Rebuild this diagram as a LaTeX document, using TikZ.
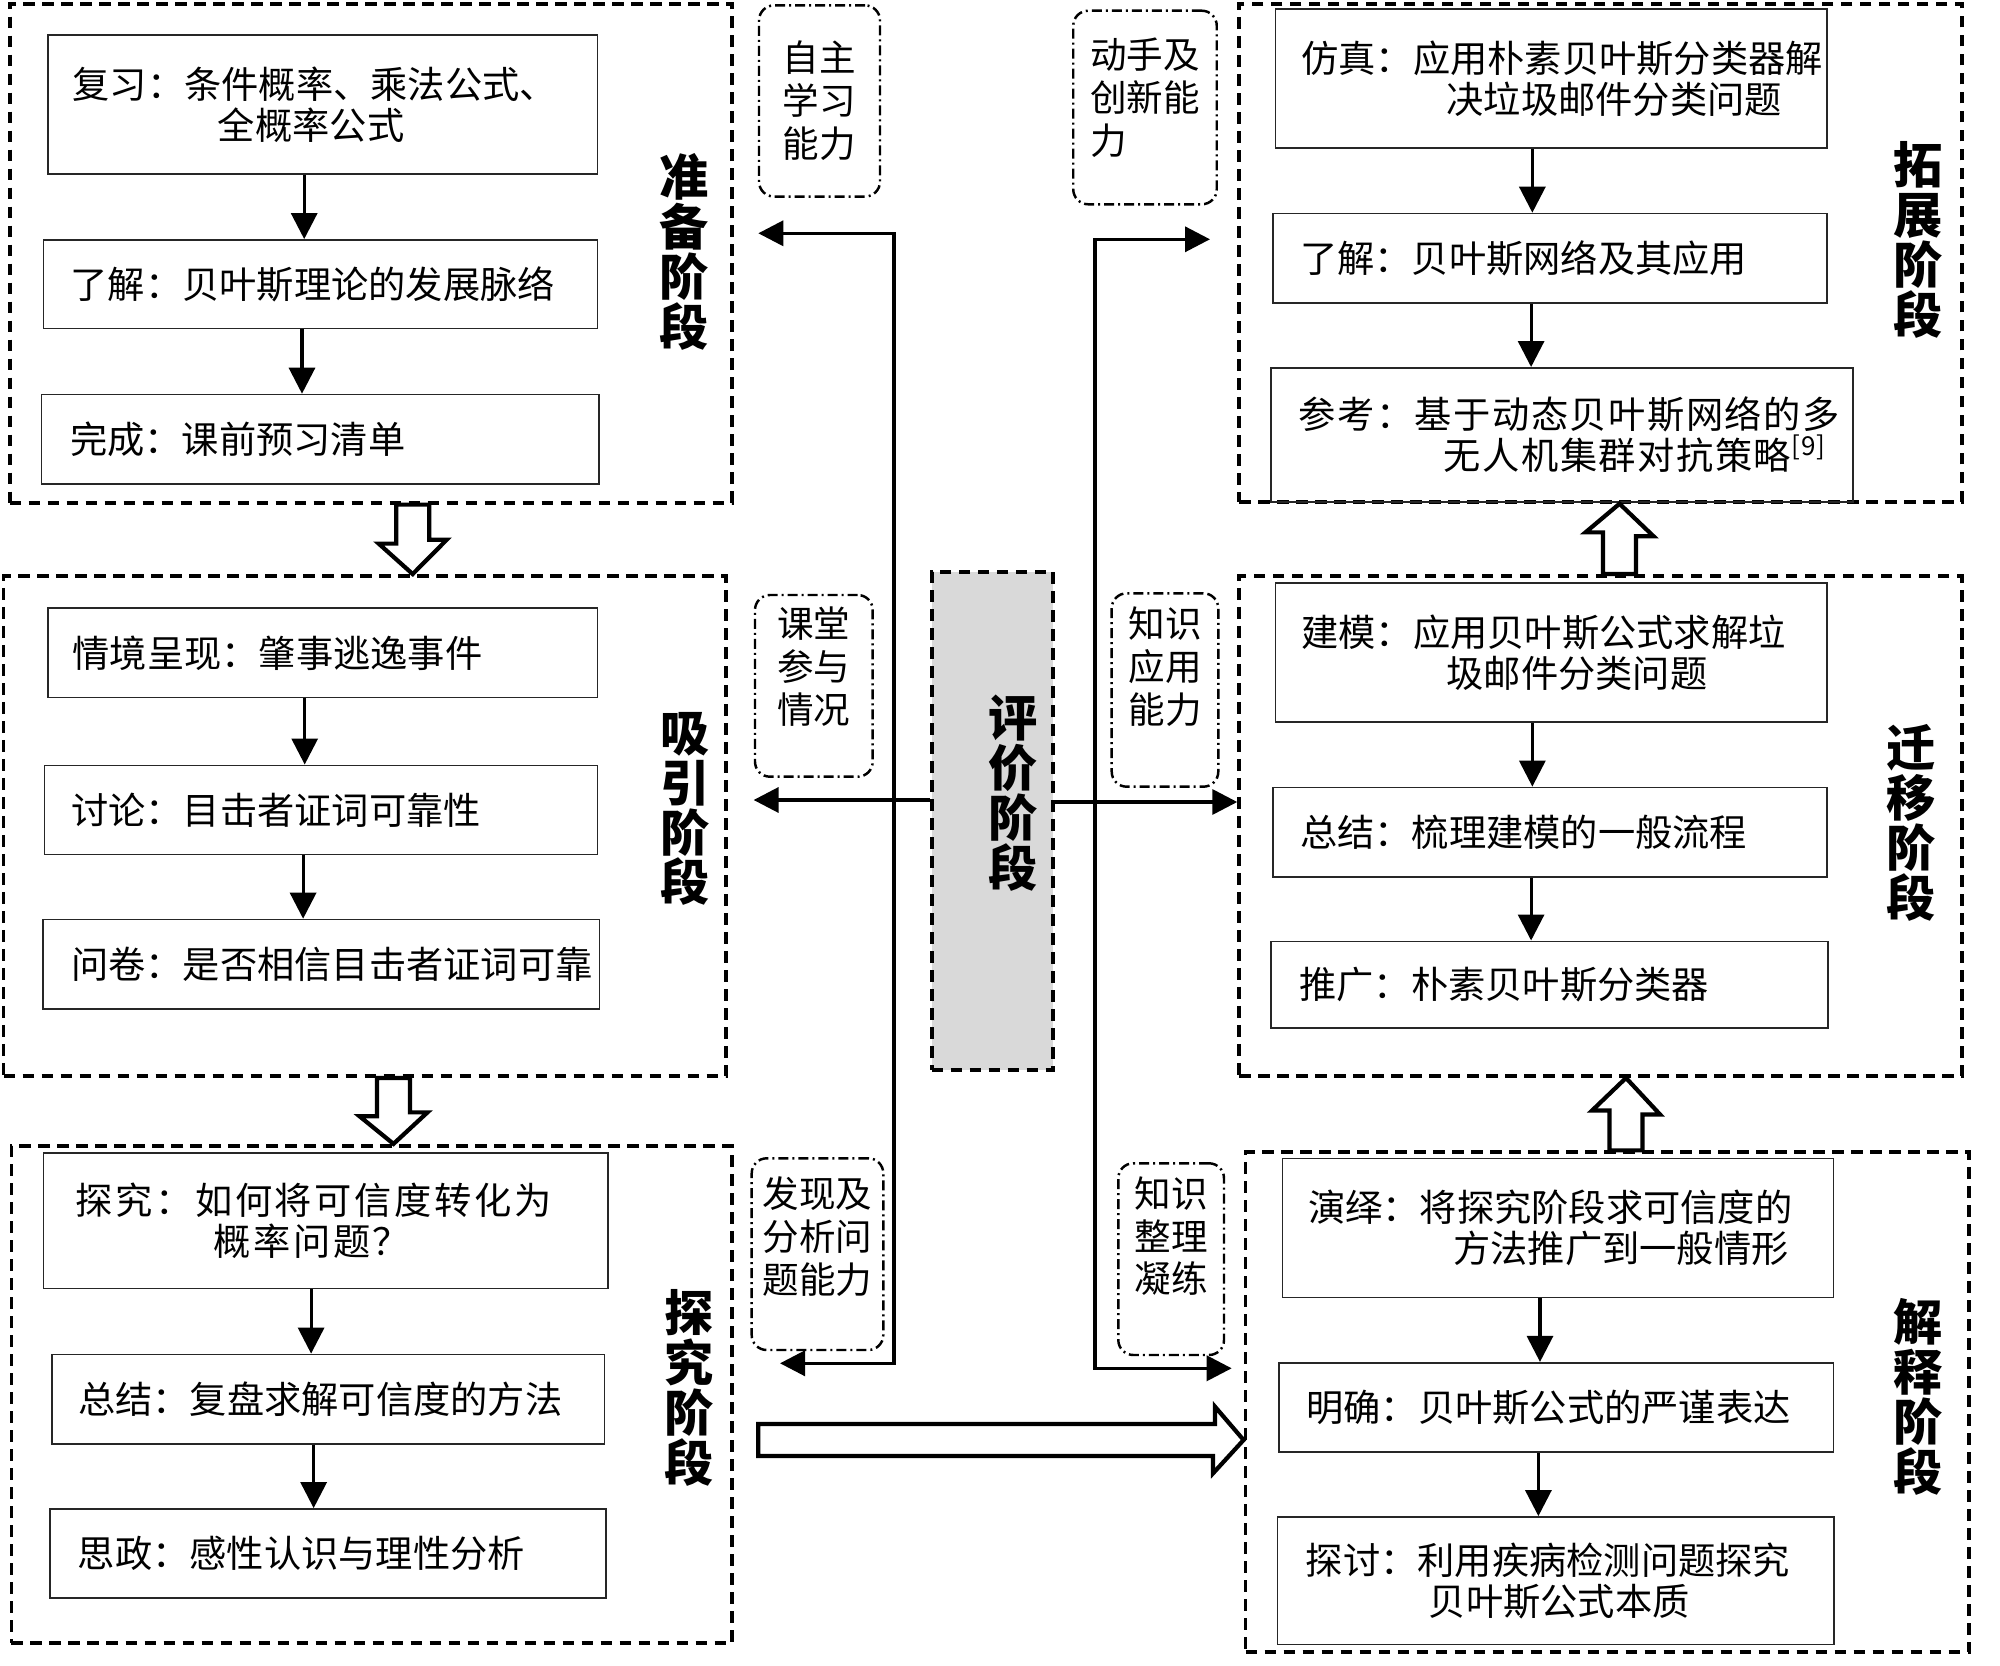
\documentclass[tikz,border=0pt]{standalone}
\usepackage{fontspec}
\usepackage{xcolor}
\usepackage{tikz}
\usetikzlibrary{arrows.meta, positioning, calc}
\newfontfamily\cjk{Noto Sans CJK SC}
\definecolor{evalgray}{rgb}{0.85,0.85,0.85}

\begin{document}
\begin{tikzpicture}[
    stage/.style={draw, line width=1.1pt, dash pattern=on 1.17mm off 0.73mm, inner sep=0pt},
    stepbox/.style={draw=black!85, line width=0.5pt, font=\cjk\fontsize{10.6}{11.7}\selectfont, align=left, text width=5cm, inner sep=0pt},
    ability/.style={draw, line width=0.7pt, rounded corners=1.5mm, dash pattern=on 1mm off 0.4mm on 0.2mm off 0.4mm, inner sep=0pt, align=center, font=\cjk\fontsize{10.4}{12.2}\selectfont},
    stagelabel/.style={font=\cjk\bfseries\fontsize{14}{14.2}\selectfont, align=center, inner sep=0pt},
    flow/.style={line width=0.9pt, -{Triangle[length=2.6mm, width=2.6mm]}},
    link/.style={line width=1pt, -{Triangle[length=2.5mm, width=2.5mm]}},
    hollow/.style={line width=1.2pt, line join=miter, fill=white}
  ]
      \useasboundingbox (0,0) rectangle (20,-16.66);

      % stages
      \node[stage, minimum width=7.224cm, minimum height=4.991cm] (prep) at (3.708,-2.5315) {};
      \node[stage, minimum width=7.225cm, minimum height=5.0cm] (attr) at (3.6475,-8.26) {};
      \node[stage, minimum width=7.205cm, minimum height=4.975cm] (inq) at (3.7175,-13.9455) {};
      \node[stage, minimum width=7.225cm, minimum height=4.982cm] (ext) at (16.0045,-2.527) {};
      \node[stage, minimum width=7.225cm, minimum height=5.0cm] (trans) at (16.0045,-8.26) {};
      \node[stage, minimum width=7.239cm, minimum height=4.993cm] (interp) at (16.0745,-14.0195) {};
      \node[stage, fill=evalgray, minimum width=1.216cm, minimum height=4.983cm] (ev) at (9.925,-8.2085) {};

      \node[stagelabel] (lprep) at (6.84,-2.52) {准\\备\\阶\\段};
      \node[stagelabel] (lattr) at (6.85,-8.09) {吸\\引\\阶\\段};
      \node[stagelabel] (linq) at (6.89,-13.88) {探\\究\\阶\\段};
      \node[stagelabel] (lext) at (19.18,-2.40) {拓\\展\\阶\\段};
      \node[stagelabel] (ltrans) at (19.11,-8.23) {迁\\移\\阶\\段};
      \node[stagelabel] (linterp) at (19.18,-13.97) {解\\释\\阶\\段};
      \node[stagelabel] (lev) at (10.13,-7.93) {评\\价\\阶\\段};

      % steps
      \node[stepbox, minimum width=5.498cm, minimum height=1.393cm] (p1) at (3.227,-1.0465) {复习：条件概率、乘法公式、\\\hspace*{3.9em}全概率公式};
      \node[stepbox, minimum width=5.542cm, minimum height=0.886cm] (p2) at (3.205,-2.843) {了解：贝叶斯理论的发展脉络};
      \node[stepbox, minimum width=5.574cm, minimum height=0.893cm] (p3) at (3.202,-4.3925) {完成：课前预习清单};

      \node[stepbox, minimum width=5.498cm, minimum height=0.893cm] (a1) at (3.227,-6.5285) {情境呈现：肇事逃逸事件};
      \node[stepbox, minimum width=5.53cm, minimum height=0.892cm] (a2) at (3.211,-8.1) {讨论：目击者证词可靠性};
      \node[stepbox, minimum width=5.568cm, minimum height=0.893cm] (a3) at (3.211,-9.6425) {问卷：是否相信目击者证词可靠};

      \node[stepbox, minimum width=5.644cm, minimum height=1.354cm] (q1) at (3.256,-12.207) {\addfontfeature{LetterSpace=7}探究：如何将可信度转化为\\\hspace*{3.7em}概率问题？};
      \node[stepbox, minimum width=5.529cm, minimum height=0.892cm] (q2) at (3.2815,-13.991) {总结：复盘求解可信度的方法};
      \node[stepbox, minimum width=5.562cm, minimum height=0.892cm] (q3) at (3.278,-15.536) {思政：感性认识与理性分析};

      \node[stepbox, minimum width=5.517cm, minimum height=1.393cm] (e1) at (15.5135,-0.7855) {仿真：应用朴素贝叶斯分类器解\\\hspace*{3.9em}决垃圾邮件分类问题};
      \node[stepbox, minimum width=5.542cm, minimum height=0.893cm] (e2) at (15.501,-2.5825) {了解：贝叶斯网络及其应用};
      \node[stepbox, minimum width=5.823cm, minimum height=1.339cm, text width=5.27cm] (e3) at (15.6215,-4.3485) {\addfontfeature{LetterSpace=4}参考：基于动态贝叶斯网络的多\\\hspace*{3.9em}无人机集群对抗策略\textsuperscript{[9]}};

      \node[stepbox, minimum width=5.517cm, minimum height=1.386cm] (t1) at (15.5135,-6.525) {建模：应用贝叶斯公式求解垃\\\hspace*{3.9em}圾邮件分类问题};
      \node[stepbox, minimum width=5.542cm, minimum height=0.893cm] (t2) at (15.501,-8.3215) {总结：梳理建模的一般流程};
      \node[stepbox, minimum width=5.568cm, minimum height=0.865cm] (t3) at (15.494,-9.8465) {推广：朴素贝叶斯分类器};

      \node[stepbox, minimum width=5.51cm, minimum height=1.39cm] (i1) at (15.58,-12.28) {演绎：将探究阶段求可信度的\\\hspace*{3.9em}方法推广到一般情形};
      \node[stepbox, minimum width=5.542cm, minimum height=0.892cm] (i2) at (15.564,-14.074) {明确：贝叶斯公式的严谨表达};
      \node[stepbox, minimum width=5.568cm, minimum height=1.274cm] (i3) at (15.558,-15.807) {探讨：利用疾病检测问题探究\\\hspace*{3.3em}贝叶斯公式本质};

      \draw[flow] ([xshift=-1.85mm]p1.south) -- ([xshift=-1.85mm]p1.south |- p2.north);
      \draw[flow] ([xshift=-1.85mm]p2.south) -- ([xshift=-1.85mm]p2.south |- p3.north);
      \draw[flow] ([xshift=-1.8mm]a1.south) -- ([xshift=-1.8mm]a1.south |- a2.north);
      \draw[flow] ([xshift=-1.8mm]a2.south) -- ([xshift=-1.8mm]a2.south |- a3.north);
      \draw[flow] ([xshift=-1.45mm]q1.south) -- ([xshift=-1.45mm]q1.south |- q2.north);
      \draw[flow] ([xshift=-1.45mm]q2.south) -- ([xshift=-1.45mm]q2.south |- q3.north);
      \draw[flow] ([xshift=-1.9mm]e1.south) -- ([xshift=-1.9mm]e1.south |- e2.north);
      \draw[flow] ([xshift=-1.9mm]e2.south) -- ([xshift=-1.9mm]e2.south |- e3.north);
      \draw[flow] ([xshift=-1.9mm]t1.south) -- ([xshift=-1.9mm]t1.south |- t2.north);
      \draw[flow] ([xshift=-1.9mm]t2.south) -- ([xshift=-1.9mm]t2.south |- t3.north);
      \draw[flow] ([xshift=-1.8mm]i1.south) -- ([xshift=-1.8mm]i1.south |- i2.north);
      \draw[flow] ([xshift=-1.8mm]i2.south) -- ([xshift=-1.8mm]i2.south |- i3.north);

      % abilities
      \node[ability, minimum width=1.21cm, minimum height=1.912cm] (s1) at (8.195,-1.01) {自主\\学习\\能力};
      \node[ability, minimum width=1.177cm, minimum height=1.817cm, text depth=0.41cm] (s2) at (8.1385,-6.8585) {课堂\\参与\\情况};
      \node[ability, minimum width=1.316cm, minimum height=1.917cm, text depth=0.376cm] (s3) at (8.175,-12.5415) {发现及\\分析问\\题能力};
      \node[ability, minimum width=1.435cm, minimum height=1.936cm, align=left, text depth=0.226cm] (s4) at (11.45,-1.075) {动手及\\创新能\\力};
      \node[ability, minimum width=1.066cm, minimum height=1.934cm, text depth=0.49cm] (s5) at (11.65,-6.9) {知识\\应用\\能力};
      \node[ability, minimum width=1.057cm, minimum height=1.917cm, text depth=0.49cm] (s6) at (11.7115,-12.5915) {知识\\整理\\凝练};

      % evaluation links
      \coordinate (jl) at (8.94,-8.00);
      \coordinate (jr) at (10.95,-8.02);
      \coordinate (tp) at (7.583,-2.333);
      \coordinate (ti) at (7.80,-13.633);
      \coordinate (te) at (12.10,-2.393);
      \coordinate (tx) at (12.317,-13.683);
      \draw[link] ([yshift=2.085mm]ev.west) -- ([xshift=2.57mm]attr.east |- jl);
      \draw[link] (jl) |- (tp);
      \draw[link] (jl) |- (ti);
      \draw[link] ([yshift=1.885mm]ev.east) -- (trans.west |- jr);
      \draw[link] (jr) |- (te);
      \draw[link] (jr) |- (tx);

      % stage order
      \draw[hollow] ([xshift=2.54mm]prep.south) -- ++(0,-0.39) -- ++(-0.175,0) -- ([xshift=4.19mm]prep.south |- attr.north) -- ++(0.34,0.343) -- ++(-0.175,0) -- ([xshift=5.84mm]prep.south) -- cycle;
      \draw[hollow] ([xshift=1.225mm]attr.south) -- ++(0,-0.383) -- ++(-0.175,0) -- ([xshift=2.875mm]attr.south |- inq.north) -- ++(0.34,0.315) -- ++(-0.175,0) -- ([xshift=4.525mm]attr.south) -- cycle;
      \coordinate (bt) at (7.583,-14.40);
      \draw[hollow] ([yshift=1.6mm]bt) -- ++(4.567,0) -- ++(0,1.73mm) -- (interp.west |- bt) -- ++(-0.305,-0.333) -- ++(0,1.73mm) -- ([yshift=-1.6mm]bt) -- cycle;
      \draw[hollow] ([xshift=0.205mm]interp.north) -- ++(0,0.398) -- ++(-0.175,0) -- ([xshift=1.855mm]interp.north |- trans.south) -- ++(0.34,-0.365) -- ++(-0.175,0) -- ([xshift=3.505mm]interp.north) -- cycle;
      \draw[hollow] ([xshift=0.255mm]trans.north) -- ++(0,0.417) -- ++(-0.175,0) -- ([xshift=1.905mm]trans.north |- ext.south) -- ++(0.34,-0.325) -- ++(-0.175,0) -- ([xshift=3.555mm]trans.north) -- cycle;
\end{tikzpicture}
\end{document}
